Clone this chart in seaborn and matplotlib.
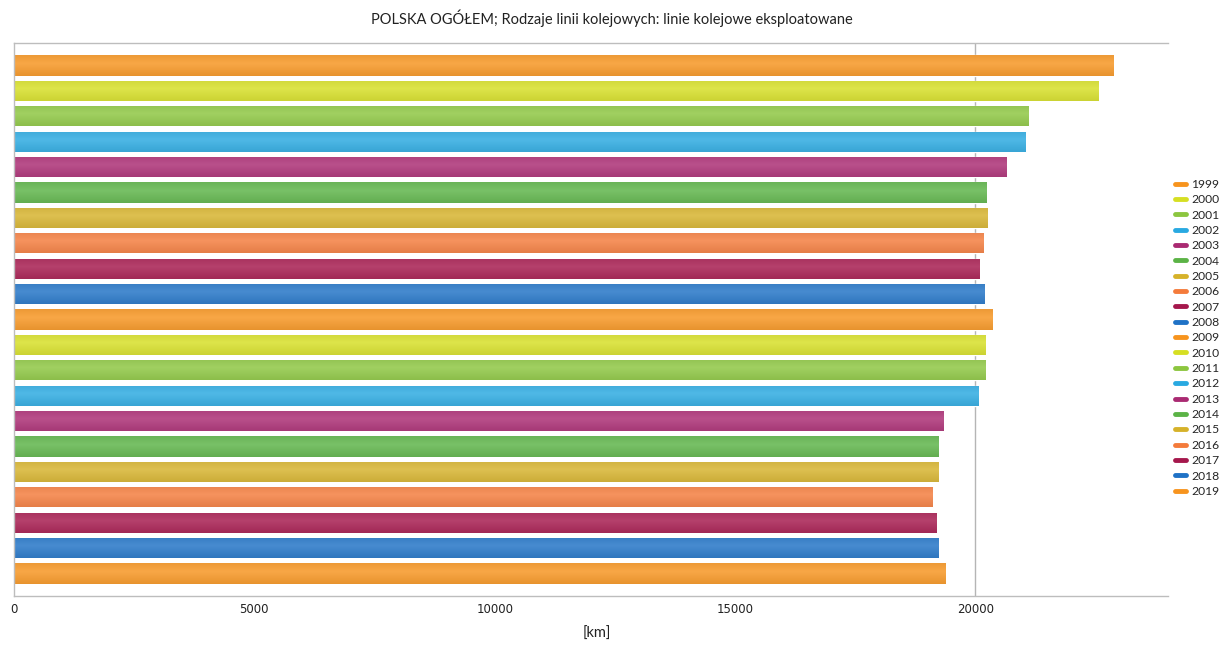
import numpy as np
import pandas as pd
import matplotlib
matplotlib.use("Agg")
import matplotlib.pyplot as plt
import matplotlib.colors as mcolors
from matplotlib.lines import Line2D
import seaborn as sns

# Railway lines in operation, Poland total [km]
years = [str(y) for y in range(1999, 2020)]
lengths_km = [22870, 22550, 21105, 21045, 20645, 20230, 20245, 20175, 20090, 20190,
              20345, 20210, 20210, 20070, 19325, 19227, 19227, 19110, 19193, 19227, 19386]

base_colors = ["#F7941E", "#D6DF23", "#8CC63F", "#29A9E1", "#AA2A72",
               "#5BB346", "#D6B22A", "#F47B3B", "#A5174C", "#1F72C6"]
palette = [base_colors[i % len(base_colors)] for i in range(len(years))]

title = "POLSKA OGÓŁEM; Rodzaje linii kolejowych: linie kolejowe eksploatowane"
x_label = "[km]"
x_ticks = [0, 5000, 10000, 15000, 20000]

df = pd.DataFrame({"rok": years, "km": lengths_km})

sns.set_theme(style="white")
plt.rcParams["font.family"] = ["Lato", "DejaVu Sans"]

fig = plt.figure(figsize=(12.24, 6.46), dpi=100)
ax = fig.add_axes([0.0114, 0.0774, 0.9426, 0.856])

sns.barplot(data=df, y="rok", x="km", hue="rok", palette=palette, orient="h",
            width=0.79, legend=False, ax=ax, saturation=1)

# glossy shading on every bar: lighter band through the middle, darker edges
grad = np.linspace(0, 1, 64)
shade = 1 - 0.55 * np.abs(grad - 0.4) / 0.6
for patch, col in zip(ax.patches, palette):
    rgb = np.array(mcolors.to_rgb(col))
    light = rgb + (1 - rgb) * 0.18
    dark = rgb * 0.88
    img = dark[None, :] + (light - dark)[None, :] * shade[:, None]
    img = np.repeat(img[:, None, :], 2, axis=1)
    x0, y0 = patch.get_x(), patch.get_y()
    w, h = patch.get_width(), patch.get_height()
    im = ax.imshow(img, extent=(x0, x0 + w, y0 + h, y0), aspect="auto",
                   interpolation="bilinear", zorder=patch.get_zorder() + 0.1)
    im.set_clip_path(patch)

ax.set_ylim(len(years) - 1 + 0.885, -0.885)
ax.set_xlim(0, 24000)
ax.set_xticks(x_ticks)
ax.set_xticklabels([str(t) for t in x_ticks], fontsize=8.5, color="#222222",
                   family=["DejaVu Sans"])
ax.set_yticks([])
ax.set_ylabel("")
ax.set_xlabel(x_label, fontsize=10.5, color="#222222")
ax.xaxis.set_label_coords(0.505, -0.056)
ax.tick_params(axis="x", direction="in", length=4, color="#cccccc", pad=5)

ax.axvline(20000, color="#b5b5b5", lw=1, zorder=0)

for side in ["top", "bottom", "left"]:
    ax.spines[side].set_visible(True)
    ax.spines[side].set_color("#bdbdbd")
    ax.spines[side].set_linewidth(1)
ax.spines["right"].set_visible(False)

fig.text(0.5, 0.972, title, ha="center", va="center", fontsize=10.5, color="#222222")

handles = [Line2D([0], [0], color=c, lw=3.5) for c in palette]
fig.legend(handles, years, loc="center left", bbox_to_anchor=(0.955, 0.477),
           frameon=False, fontsize=8.7, handlelength=0.9, handletextpad=0.45,
           labelspacing=0.36, borderpad=0)

fig.savefig("out.png", dpi=100, facecolor="white")
